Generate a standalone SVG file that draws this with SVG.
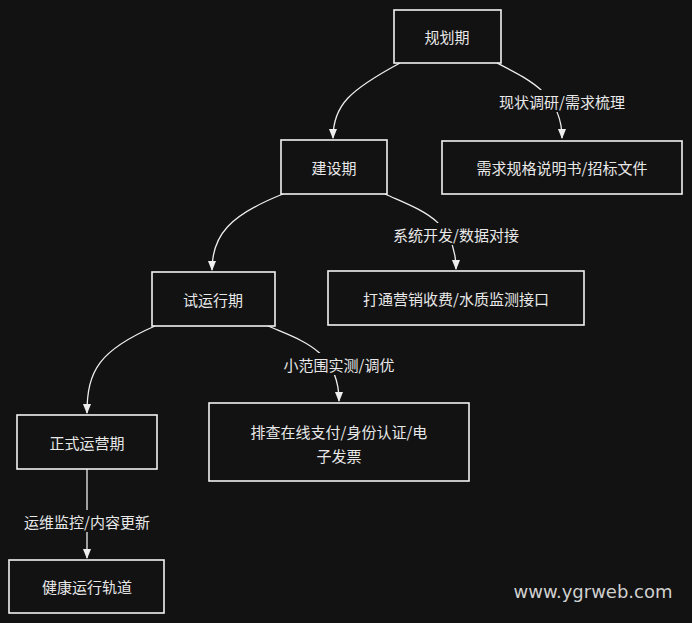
<svg xmlns="http://www.w3.org/2000/svg" width="692" height="623" viewBox="0 0 692 623">
<defs>
<style>
.n rect{fill:#121212;stroke:#f2f2f2;stroke-width:1.6}
text{font-family:"Noto Sans CJK SC","Noto Sans",sans-serif;fill:#e8e8e8;font-size:15px;text-anchor:middle;dominant-baseline:central}
.c path{fill:none;stroke:#eeeeee;stroke-width:1.3}
.lb{fill:#121212}
</style>
<marker id="a" viewBox="0 0 10 10" refX="9" refY="5" markerWidth="8" markerHeight="8" orient="auto"><path d="M0,1 L10,5 L0,9 Z" fill="#eeeeee"/></marker>
</defs>
<rect width="692" height="623" fill="#121212"/>
<g class="c">
<path d="M400,63 C350,90 333,105 333,138" marker-end="url(#a)"/>
<path d="M497,63 C530,80 562,95 562,138" marker-end="url(#a)"/>
<path d="M283,194 C230,215 212,235 212,270" marker-end="url(#a)"/>
<path d="M385,194 C420,210 456,220 456,269" marker-end="url(#a)"/>
<path d="M155,326 C100,350 87,370 87,413" marker-end="url(#a)"/>
<path d="M268,326 C300,340 339,350 339,401" marker-end="url(#a)"/>
<path d="M87,469 L87,558" marker-end="url(#a)"/>
<rect class="lb" x="492" y="90" width="140" height="22"/>
<rect class="lb" x="386" y="223" width="140" height="22"/>
<rect class="lb" x="279" y="353" width="120" height="22"/>
<rect class="lb" x="17" y="510" width="140" height="22"/>
</g>
<g id="l1"><text x="562" y="101">现状调研/需求梳理</text></g>
<g id="l2"><text x="456" y="234">系统开发/数据对接</text></g>
<g id="l3"><text x="339" y="364">小范围实测/调优</text></g>
<g id="l4"><text x="87" y="521">运维监控/内容更新</text></g>
<g id="n1" class="n"><rect x="394" y="10" width="107" height="53"/><text x="447" y="36">规划期</text></g>
<g id="n2" class="n"><rect x="442" y="141" width="240" height="53"/><text x="562" y="167">需求规格说明书/招标文件</text></g>
<g id="n3" class="n"><rect x="281" y="140" width="106" height="54"/><text x="334" y="167">建设期</text></g>
<g id="n4" class="n"><rect x="328" y="271" width="256" height="54"/><text x="456" y="298">打通营销收费/水质监测接口</text></g>
<g id="n5" class="n"><rect x="152" y="272" width="123" height="54"/><text x="213" y="299">试运行期</text></g>
<g id="n6" class="n"><rect x="209" y="403" width="260" height="78"/><text x="339" y="431">排查在线支付/身份认证/电</text><text x="339" y="455">子发票</text></g>
<g id="n7" class="n"><rect x="17" y="415" width="140" height="54"/><text x="87" y="442">正式运营期</text></g>
<g id="n8" class="n"><rect x="9" y="560" width="155" height="53"/><text x="87" y="586">健康运行轨道</text></g>
<text x="593" y="591" style="font-family:'DejaVu Sans',sans-serif;font-size:18px;fill:#d0d0d0">www.ygrweb.com</text>
</svg>
